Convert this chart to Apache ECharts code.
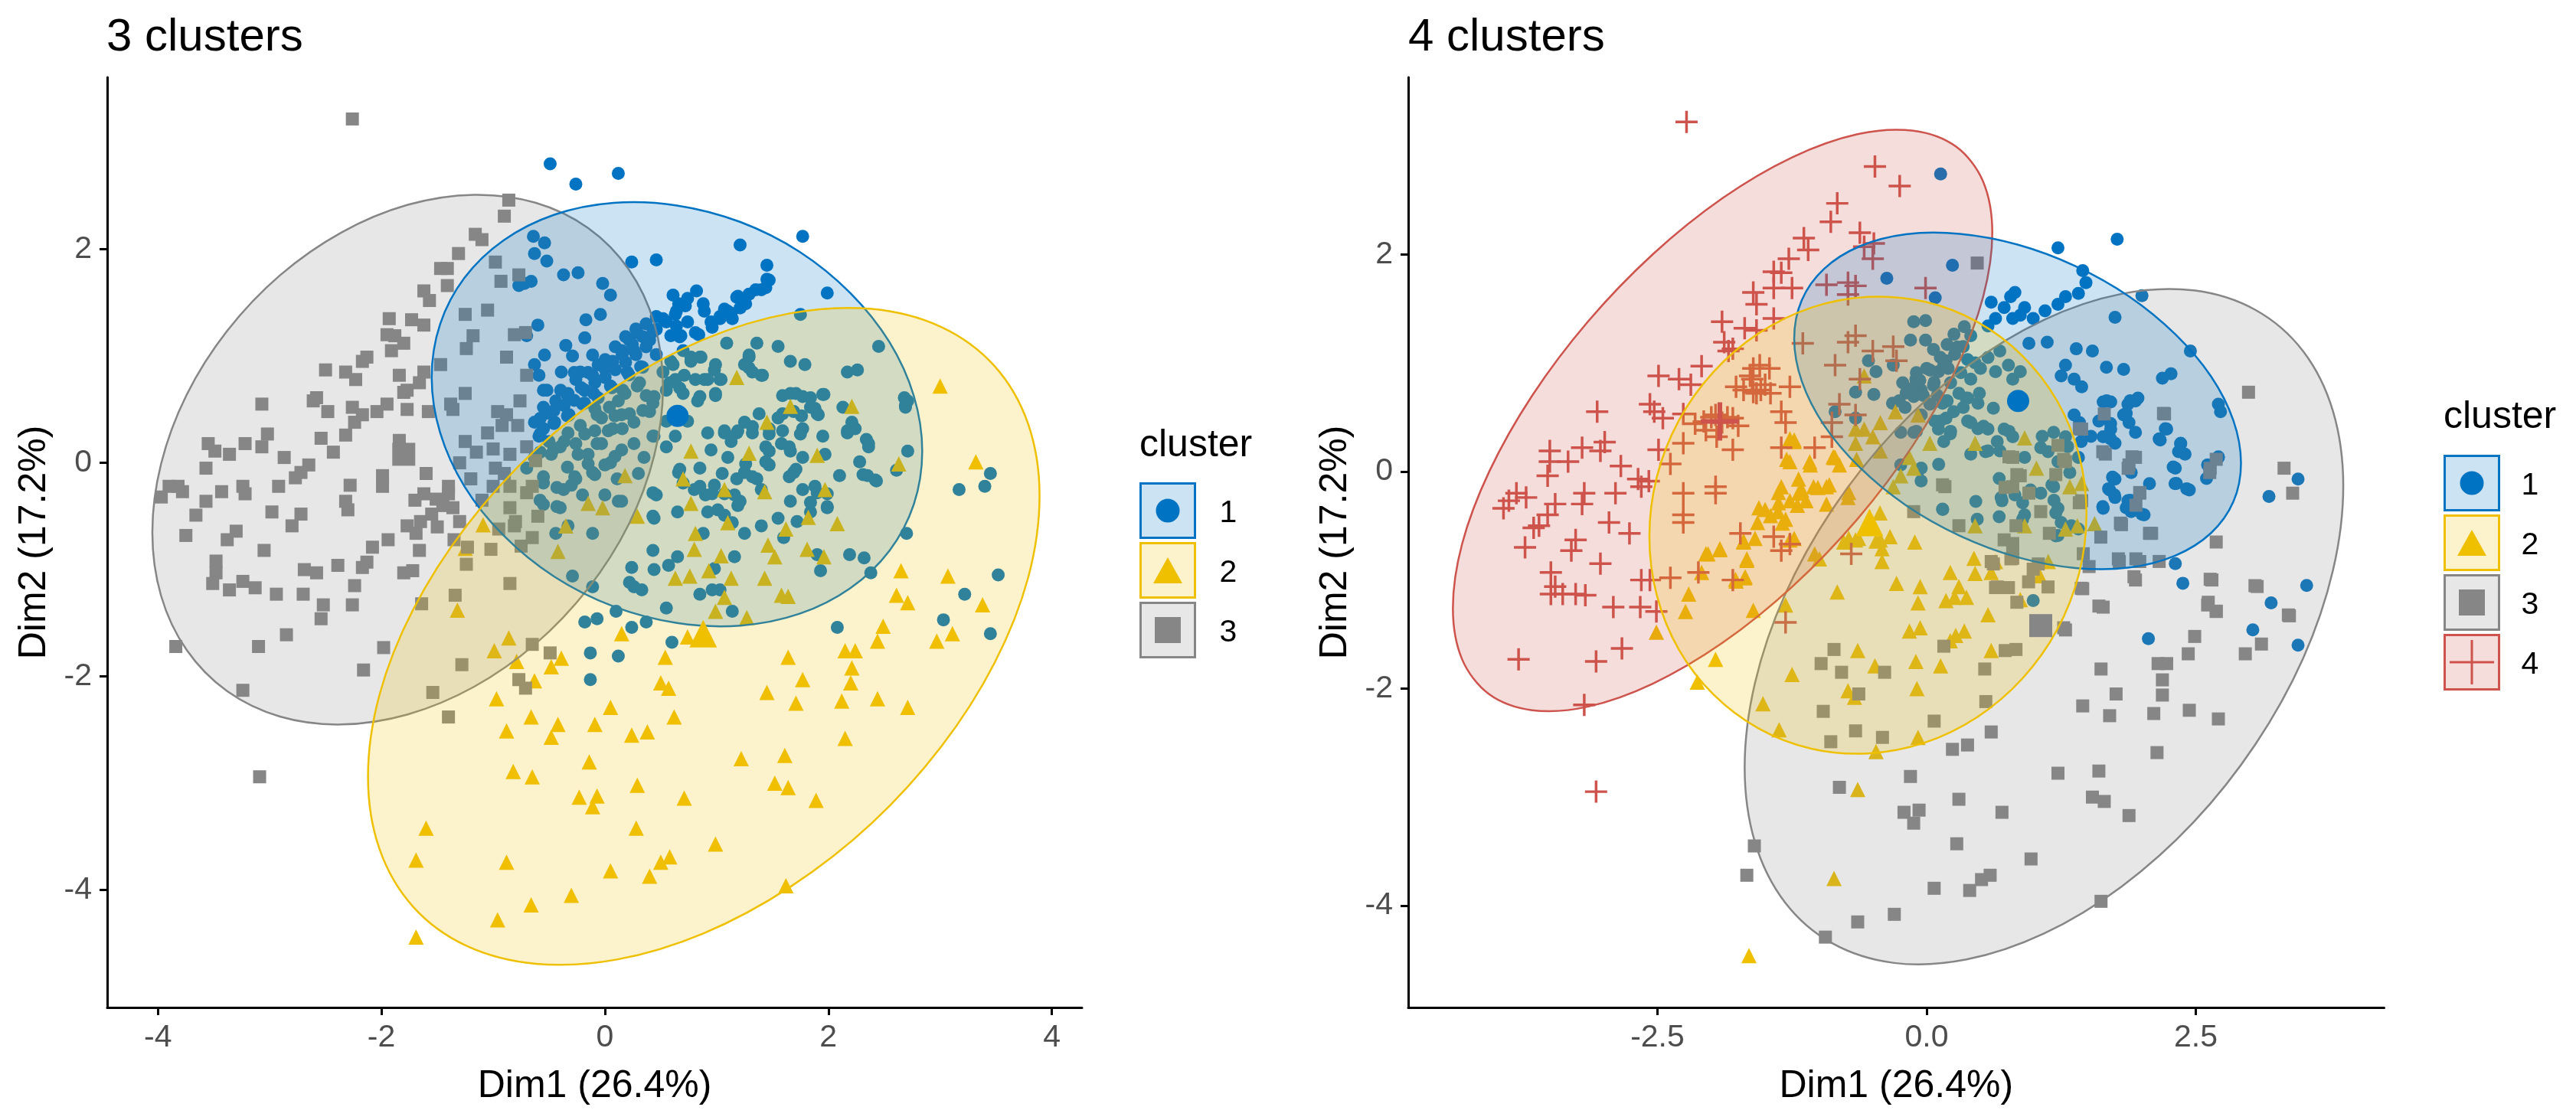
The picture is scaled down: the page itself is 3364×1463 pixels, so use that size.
<!DOCTYPE html>
<html><head><meta charset="utf-8">
<style>html,body{margin:0;padding:0;background:#fff}#c{width:3364px;height:1463px}</style>
<script src="https://cdn.jsdelivr.net/npm/echarts@6/dist/echarts.min.js"></script>
</head><body><div id="c"></div>
<script>
const A_gray=[[-2.26,3.22],[-0.86,2.46],[-0.9,2.31],[-1.16,2.14],[-1.1,2.09],[-1.31,1.96],[-1.41,1.82],[-1.47,1.82],[-0.98,1.88],[-0.77,1.76],[-0.93,1.7],[-1.62,1.61],[-1.57,1.52],[-1.41,1.66],[-1.93,1.35],[-1.73,1.34],[-1.62,1.29],[-1.25,1.39],[-1.05,1.43],[-1.95,1.2],[-1.88,1.19],[-1.8,1.12],[-1.91,1.05],[-1.18,1.19],[-1.24,1.07],[-0.81,1.2],[-0.71,1.22],[-2.13,0.99],[-2.17,0.95],[-2.5,0.87],[-2.32,0.85],[-2.23,0.78],[-1.84,0.82],[-1.62,0.85],[-1.47,0.92],[-0.88,0.99],[-0.7,0.82],[-1.66,0.75],[-1.77,0.68],[-1.8,0.66],[-1.25,0.65],[-2.58,0.61],[-2.61,0.58],[-2.48,0.48],[-2.26,0.52],[-2.17,0.45],[-1.95,0.55],[-2.04,0.48],[-1.77,0.5],[-1.58,0.48],[-1.38,0.55],[-1.36,0.5],[-0.76,0.58],[-0.88,0.45],[-0.92,0.35],[-0.96,0.48],[-3.07,0.55],[-2.24,0.38],[-2.32,0.26],[-2.54,0.23],[-3.02,0.27],[-3.22,0.18],[-3.55,0.18],[-3.49,0.11],[-3.36,0.08],[-3.07,0.15],[-2.87,0.05],[-2.43,0.1],[-1.84,0.21],[-1.8,0.11],[-1.77,0.05],[-3.57,-0.05],[-2.65,-0.02],[-2.72,-0.09],[-2.77,-0.14],[-2.92,-0.22],[-3.24,-0.22],[-3.22,-0.29],[-3.43,-0.27],[-3.82,-0.22],[-3.78,-0.27],[-3.9,-0.22],[-3.97,-0.32],[-3.57,-0.36],[-3.66,-0.49],[-3.75,-0.68],[-3.3,-0.64],[-3.38,-0.72],[-1.99,-0.12],[-1.99,-0.22],[-2.28,-0.21],[-1.6,-0.1],[-2.32,-0.36],[-2.3,-0.44],[-2.98,-0.46],[-2.72,-0.48],[-2.8,-0.59],[-3.05,-0.82],[-3.48,-0.92],[-3.48,-1.03],[-3.51,-1.13],[-3.24,-1.11],[-3.36,-1.19],[-3.13,-1.17],[-2.94,-1.23],[-2.69,-1.0],[-2.58,-1.03],[-2.7,-1.23],[-2.39,-0.96],[-2.13,-0.93],[-2.17,-0.98],[-2.08,-0.79],[-1.94,-0.72],[-1.77,-0.59],[-1.69,-0.66],[-1.62,-0.29],[-1.51,-0.34],[-1.4,-0.29],[-1.36,-0.42],[-1.66,-0.82],[-1.8,-1.03],[-1.72,-1.01],[-1.24,-0.95],[-1.02,-0.81],[-1.23,-0.79],[-0.81,-0.59],[-2.52,-1.33],[-2.54,-1.46],[-2.24,-1.15],[-2.26,-1.33],[-3.84,-1.72],[-3.1,-1.72],[-2.85,-1.61],[-1.98,-1.73],[-2.16,-1.94],[-3.24,-2.13],[-1.54,-2.15],[-1.4,-2.38],[-1.28,-1.89],[-1.64,-1.32],[-1.34,-1.24],[-0.85,-1.13],[-0.65,-1.7],[-0.49,-1.78],[-0.77,-2.03],[-0.71,-2.11],[-3.09,-2.94],[-1.25,0.2],[-1.15,0.1],[-1.0,0.13],[-0.85,0.08],[-0.7,0.15],[-1.3,0],[-1.2,-0.15],[-1.0,-0.22],[-0.85,-0.22],[-0.7,-0.28],[-1.1,-0.35],[-0.85,-0.42],[-0.65,-0.22],[-1.4,-0.22],[-1.55,-0.48],[-1.45,-0.4],[-1.3,-0.55],[-0.95,-0.62],[-0.75,-0.78],[-0.65,-0.7],[-0.6,-0.5],[-0.8,-0.55],[-1.7,-0.35],[-1.65,-0.55],[-1.5,-0.6],[-1.35,-0.72],[-0.98,-0.05],[-0.62,0.02],[-1.05,0.28],[-0.78,0.35],[-0.9,-0.1]];
const A_blue=[[-0.49,2.8],[-0.26,2.61],[0.12,2.71],[1.77,2.12],[1.21,2.04],[1.45,1.85],[1.99,1.59],[0.24,1.88],[0.46,1.9],[-0.64,2.12],[-0.54,2.06],[-0.63,1.96],[-0.52,1.89],[-0.37,1.76],[-0.24,1.78],[-0.02,1.68],[0.05,1.57],[-0.77,1.66],[-0.66,1.7],[-0.72,1.68],[0.61,1.57],[0.82,1.61],[0.88,1.49],[1.47,1.71],[1.4,1.62],[1.29,1.58],[1.18,1.55],[1.21,1.45],[1.1,1.42],[1.14,1.35],[1.03,1.35],[0.96,1.27],[0.66,1.49],[0.63,1.39],[0.74,1.32],[0.81,1.22],[0.68,1.19],[0.59,1.19],[0.52,1.35],[0.46,1.25],[0.4,1.15],[0.29,1.22],[0.22,1.15],[0.15,1.05],[0.26,1.05],[0.07,0.95],[0,0.88],[-0.11,0.82],[-0.26,0.78],[-0.18,0.68],[-0.33,0.65],[-0.44,0.58],[-0.55,0.52],[-0.63,0.38],[-0.55,0.32],[-0.59,0.25],[-0.6,1.29],[-0.7,1.19],[-0.18,1.17],[-0.17,1.34],[-0.04,1.39],[-0.35,1.1],[-0.54,1.01],[-0.11,1.01],[-0.29,1.0],[-0.63,0.92],[-0.59,0.82],[-0.39,0.85],[-0.22,0.85],[-0.55,0.68],[2.71,0.58],[2.69,0.52],[2.45,1.09],[2.26,0.87],[2.17,0.85],[1.75,1.39],[1.36,1.12],[1.55,1.09],[1.09,1.12],[1.29,1.01],[1.66,0.95],[1.79,0.92],[1.25,0.92],[1.32,0.85],[1.4,0.82],[0.85,0.99],[0.77,0.95],[0.7,1.05],[0.59,0.95],[0.52,0.85],[0.63,0.78],[0.99,0.92],[1.03,0.78],[0.92,0.78],[0.81,0.78],[0.99,0.65],[0.85,0.62],[0.7,0.65],[0.55,0.68],[0.44,0.62],[0.29,0.72],[0.18,0.65],[0.04,0.52],[-0.07,0.45],[-0.22,0.35],[-0.33,0.28],[-0.4,0.15],[-0.26,0.18],[-0.15,0.08],[-0.07,0.18],[0.07,0.32],[0.26,0.38],[0.15,0.45],[0.4,0.48],[0.44,0.25],[0.26,0.18],[0,-0.02],[-0.11,-0.09],[-0.26,-0.15],[-0.37,-0.25],[-0.55,-0.19],[-0.55,-0.39],[-0.4,-0.42],[-0.33,-0.59],[-0.44,-0.66],[-0.11,-0.66],[0.15,-0.36],[0.11,-0.15],[-0.7,-0.05],[-0.48,0.08],[-0.63,0.05],[1.25,0.38],[0.92,0.28],[1.07,0.28],[1.18,0.28],[1.32,0.28],[1.47,0.32],[1.55,0.42],[1.66,0.65],[1.77,0.62],[1.95,0.64],[1.84,0.52],[1.91,0.45],[1.69,0.48],[1.58,0.18],[1.47,0.11],[1.47,-0.02],[1.66,0.11],[1.77,0.05],[1.69,-0.09],[1.97,0.08],[2.1,-0.12],[2.24,0.32],[2.17,0.28],[2.36,0.18],[2.28,0.01],[2.35,-0.12],[2.43,-0.17],[2.61,-0.07],[2.71,0.11],[0.66,-0.09],[0.7,-0.19],[0.85,-0.22],[0.96,-0.29],[1.07,-0.29],[1.18,-0.15],[1.25,-0.09],[1.36,-0.15],[1.4,-0.25],[1.21,-0.36],[1.07,-0.49],[0.92,-0.46],[1.14,-0.56],[1.25,-0.66],[1.4,-0.59],[1.55,-0.52],[1.66,-0.36],[1.77,-0.25],[1.88,-0.22],[1.99,-0.29],[1.84,-0.46],[1.99,-0.42],[0.46,-0.3],[0.44,-0.52],[0.65,-0.46],[0.88,-0.66],[0.43,-0.82],[0.65,-0.88],[1.16,-0.88],[0.98,-0.99],[0.24,-0.98],[0.44,-1.0],[0.57,-0.96],[1.03,-1.19],[0.85,-1.23],[0.96,-1.19],[1.14,-1.39],[0.26,-1.16],[0.33,-1.19],[0.22,-1.12],[-0.29,-1.06],[-0.11,-1.16],[0.55,-1.36],[0.1,-1.39],[-0.07,-1.46],[-0.18,-1.49],[0.37,-1.49],[0.24,-1.54],[0.6,-1.68],[-0.13,-1.78],[0.12,-1.81],[-0.13,-2.03],[1.9,-0.86],[1.93,-1.01],[2.19,-0.86],[2.32,-0.89],[2.38,-1.03],[2.7,-0.66],[2.08,-1.54],[3.22,-1.23],[3.03,-1.47],[3.45,-1.6],[3.52,-1.05],[3.17,-0.25],[3.4,-0.22],[3.45,-0.1],[2.13,0.52],[2.21,0.38],[1.95,0.25],[1.77,0.32],[-0.1,0.65],[0.05,0.72],[0.2,0.85],[0.32,0.9],[-0.2,0.55],[-0.32,0.45],[-0.45,0.38],[-0.5,0.2],[0.35,0.05],[0.15,0.12],[0.05,0.0],[-0.2,-0.3],[0.0,-0.3],[0.3,-0.1],[1.1,0.05],[0.95,0.12],[1.05,-0.1],[0.85,-0.05],[1.6,-0.7],[1.72,-0.55],
[-0.579,0.416],[-0.518,0.464],[-0.457,0.488],[-0.365,0.536],[-0.274,0.584],[-0.182,0.679],[-0.09,0.751],[0.002,0.799],[0.093,0.871],[0.185,0.942],[0.277,1.014],[0.369,1.086],[0.093,1.086],[0.185,1.181],[0.277,1.253],[0.369,1.301],[0.155,1.014],[0.246,1.11],[0.338,1.181],[0.43,1.229],[-0.579,0.273],[-0.457,0.368],[-0.335,0.44],[-0.182,0.56],[-0.06,0.608],[0.063,0.703],[0.216,0.823],[0.338,0.895],[0.46,1.014],[-0.151,0.847],[-0.274,0.847],[-0.06,0.918],[0.002,0.966],[-0.396,0.679],[-0.518,0.679],[-0.335,0.632],[-0.212,0.703],
[0.46,1.37],[0.55,1.32],[0.64,1.42],[0.64,1.28],[0.72,1.47],[0.74,1.54],[0.67,1.18],[0.84,1.2],[0.89,1.42],[0.95,1.32],[1.07,1.44],[1.13,1.4],[1.03,1.37],[1.19,1.56],[1.26,1.49],[1.35,1.62],[1.44,1.64],[1.45,1.72],
[0.61,0.92],[0.77,0.99],[0.86,0.99],[0.98,0.87],[1.04,0.78],[0.99,0.63],[0.83,0.58],[0.67,0.7],[0.58,0.75],[0.89,0.78],[0.71,0.82],[1.29,0.99],[1.29,0.89],[1.41,0.82],[1.59,0.63],[1.71,0.65],[1.84,0.61],[1.96,0.64],[1.88,0.51],[1.59,0.46],[1.76,0.44],[1.9,0.46],[2.22,0.34],[2.17,0.3],[2.34,0.22],[2.36,0.15],[2.68,0.61],[2.69,0.54],[1.38,0.46],[1.32,0.34],[1.07,0.3],[1.19,0.3],[1.13,0.2],[1.47,0.27],[1.59,0.3],[1.75,0.27],[1.44,0.15],[1.65,0.15],[1.44,0.01],[1.65,-0.13],[1.71,-0.06],[1.26,-0.01],[1.32,-0.13],[1.16,-0.3],[1.19,-0.4],[0.98,-0.21],[0.8,-0.25],[0.9,-0.3],[0.67,-0.06],[1.01,-0.44],[1.9,-0.28],[1.84,-0.37],[1.99,-0.41],[2.31,-0.11],[2.42,-0.16],[0.55,0.39],[0.74,0.39],[0.63,0.25],[0.43,0.25],[0.55,0.15],
[0.31,0.75],[0.16,0.68],[0.37,0.63],[0.43,0.56],[0.12,0.58],[0.22,0.46],[0.34,0.49],[-0.09,0.51],[-0.03,0.42],[0.09,0.44],[0.155,0.32],[0.03,0.3],[-0.09,0.3],[-0.18,0.27],[-0.365,0.2],[-0.457,0.13],[-0.579,0.1],[-0.24,0.08],[-0.03,0.18],[-0.15,-0.01],[-0.09,-0.11],[0.09,0.06],[-0.335,-0.04],[-0.27,-0.13],[-0.55,-0.13],[-0.43,-0.23],[-0.3,-0.21],[-0.58,-0.35],[-0.43,-0.41],[0.12,-0.36],[0.43,-0.28],[0.43,-0.5]];
const A_yellow=[[3.0,0.72],[3.32,0.01],[1.66,0.53],[2.21,0.53],[1.45,0.38],[1.18,0.8],[0.77,0.11],[1.29,0.09],[1.9,0.07],[2.63,-0.01],[0.18,-0.12],[0.7,-0.15],[1.07,-0.25],[1.43,-0.27],[1.97,-0.25],[0.77,-0.38],[-0.15,-0.38],[-0.02,-0.42],[1.1,-0.56],[0.29,-0.5],[1.82,-0.51],[2.08,-0.57],[1.62,-0.62],[-0.35,-0.59],[-1.09,-0.58],[0.81,-0.66],[0.8,-0.81],[-0.42,-0.83],[-1.25,-0.8],[1.46,-0.77],[1.81,-0.81],[1.04,-0.87],[1.52,-0.88],[1.96,-0.88],[2.65,-1.01],[3.07,-1.06],[0.93,-1.01],[0.63,-1.08],[0.76,-1.06],[1.13,-1.08],[1.43,-1.08],[2.61,-1.24],[1.58,-1.24],[1.64,-1.25],[2.71,-1.31],[3.38,-1.33],[1.07,-1.26],[-1.32,-1.38],[0.99,-1.39],[1.27,-1.45],[0.15,-1.6],[0.74,-1.63],[2.49,-1.53],[3.11,-1.6],[2.97,-1.67],[2.44,-1.67],[-0.86,-1.64],[-0.99,-1.76],[-0.79,-1.86],[0.54,-1.82],[1.64,-1.82],[2.15,-1.76],[2.24,-1.76],[-0.39,-1.83],[-0.48,-1.91],[2.21,-1.92],[1.77,-2.03],[-0.63,-2.04],[0.5,-2.06],[0.57,-2.11],[2.2,-2.06],[1.45,-2.15],[-0.97,-2.21],[1.71,-2.25],[2.12,-2.23],[2.44,-2.21],[0.05,-2.29],[2.71,-2.29],[-0.66,-2.38],[0.62,-2.38],[-0.09,-2.45],[-0.42,-2.45],[-0.88,-2.51],[0.24,-2.55],[0.38,-2.52],[-0.48,-2.57],[2.15,-2.58],[1.61,-2.74],[-0.14,-2.8],[1.22,-2.77],[-0.82,-2.89],[-0.65,-2.94],[1.52,-3.0],[1.64,-3.04],[0.29,-3.02],[1.89,-3.16],[-0.23,-3.13],[-0.07,-3.12],[0.71,-3.14],[-0.11,-3.22],[-1.6,-3.42],[0.28,-3.42],[0.99,-3.57],[-1.69,-3.72],[-0.88,-3.74],[0.58,-3.69],[0.5,-3.74],[0.05,-3.82],[0.4,-3.87],[1.62,-3.96],[-0.3,-4.05],[-0.66,-4.14],[-0.96,-4.28],[-1.69,-4.44]];
const A_grayOutline=[[0.52,0.71],[0.442,0.07],[0.214,-0.575],[-0.149,-1.175],[-0.622,-1.696],[-1.173,-2.098],[-1.765,-2.356],[-2.357,-2.45],[-2.908,-2.376],[-3.381,-2.138],[-3.744,-1.751],[-3.972,-1.245],[-4.05,-0.65],[-3.972,-0.01],[-3.744,0.635],[-3.381,1.235],[-2.908,1.756],[-2.357,2.158],[-1.765,2.416],[-1.173,2.51],[-0.622,2.436],[-0.149,2.198],[0.214,1.811],[0.442,1.305]];
const A_blueOutline=[[2.84,0.108],[2.765,-0.387],[2.546,-0.823],[2.197,-1.173],[1.743,-1.413],[1.213,-1.524],[0.645,-1.5],[0.077,-1.345],[-0.453,-1.066],[-0.907,-0.68],[-1.256,-0.222],[-1.475,0.284],[-1.55,0.802],[-1.475,1.297],[-1.256,1.733],[-0.907,2.083],[-0.453,2.323],[0.077,2.434],[0.645,2.41],[1.213,2.255],[1.743,1.976],[2.197,1.59],[2.546,1.132],[2.765,0.626]];
const A_yellowOutline=[[3.89,-0.309],[3.788,-1.075],[3.487,-1.874],[3.01,-2.658],[2.388,-3.375],[1.663,-3.968],[0.885,-4.405],[0.107,-4.651],[-0.618,-4.691],[-1.24,-4.522],[-1.717,-4.156],[-2.018,-3.614],[-2.12,-2.941],[-2.018,-2.175],[-1.717,-1.376],[-1.24,-0.592],[-0.618,0.125],[0.107,0.718],[0.885,1.155],[1.663,1.401],[2.388,1.441],[3.01,1.272],[3.487,0.906],[3.788,0.364]];
const A_means={blue:[[0.65,0.44]],yellow:[[0.88,-1.6]],gray:[[-1.8,0.08]]};

const B_red=[[-2.23,3.22],[-0.48,2.81],[-0.25,2.63],[-0.83,2.47],[-0.89,2.3],[-0.62,2.2],[-0.49,2.1],[-0.58,2.07],[-0.5,1.96],[-1.14,2.15],[-1.1,2.04],[-1.28,1.96],[-1.42,1.84],[-1.35,1.83],[-1.42,1.69],[-1.25,1.69],[-0.93,1.72],[-0.73,1.74],[-0.66,1.71],[-0.01,1.69],[-0.73,1.63],[-1.61,1.65],[-1.58,1.54],[-1.42,1.41],[-1.9,1.38],[-1.69,1.32],[-1.58,1.3],[-1.88,1.19],[-1.8,1.13],[-1.84,1.11],[-1.15,1.18],[-0.73,1.19],[-0.66,1.25],[-0.31,1.15],[-0.5,1.11],[-0.85,0.98],[-0.62,0.85],[-0.28,1.02],[-2.09,0.97],[-2.49,0.88],[-2.3,0.85],[-2.19,0.8],[-1.61,0.95],[-1.46,0.95],[-1.64,0.88],[-1.77,0.78],[-1.61,0.73],[-1.54,0.75],[-1.27,0.78],[-2.57,0.62],[-3.06,0.55],[-2.53,0.55],[-2.45,0.49],[-2.26,0.53],[-2.07,0.46],[-2.15,0.44],[-1.96,0.52],[-1.8,0.49],[-1.35,0.55],[-1.31,0.45],[-0.81,0.62],[-0.66,0.52],[-1.8,0.2],[-2.49,0.2],[-2.26,0.26],[-2.38,0.07],[-3.5,0.19],[-2.99,0.27],[-3.03,0.19],[-3.2,0.22],[-3.33,0.09],[-3.5,0.09],[-2.84,0.05],[-3.52,-0.04],[-2.68,-0.07],[-2.58,-0.09],[-2.65,-0.14],[-1.96,-0.14],[-1.96,-0.2],[-2.26,-0.2],[-2.89,-0.2],[-3.18,-0.2],[-3.2,-0.3],[-3.81,-0.2],[-3.72,-0.24],[-3.88,-0.27],[-3.93,-0.34],[-3.45,-0.3],[-3.52,-0.4],[-3.6,-0.5],[-3.65,-0.52],[-2.95,-0.47],[-2.26,-0.4],[-2.26,-0.47],[-2.76,-0.57],[-1.73,-0.57],[-1.42,-0.6],[-1.27,-0.67],[-3.26,-0.63],[-3.3,-0.73],[-3.73,-0.7],[-3.03,-0.85],[-3.49,-0.93],[-3.45,-1.06],[-3.49,-1.13],[-3.38,-1.13],[-3.26,-1.13],[-3.17,-1.14],[-2.91,-1.25],[-2.65,-1.0],[-2.57,-1.0],[-2.38,-0.98],[-2.66,-1.25],[-2.51,-1.29],[-2.12,-0.93],[-1.8,-1.0],[-1.31,-1.39],[-0.7,-0.76],[-1.35,-0.73],[-3.79,-1.73],[-3.07,-1.75],[-2.83,-1.63],[-3.18,-2.15],[-3.07,-2.95],[-1.55,0.98],[-1.62,0.85],[-1.5,0.8],[-1.58,0.72],[-1.7,0.75],[-1.45,0.72],[-2.0,0.5],[-1.9,0.45],[-1.85,0.5],[-1.75,0.42],[-2.05,0.38],[-1.95,0.32],[-1.35,0.22],[-1.04,0.22],[-0.88,0.32],[-0.88,0.45]];
const B_blue=[[0.13,2.74],[1.77,2.14],[1.22,2.06],[1.45,1.85],[2.0,1.62],[0.24,1.9],[-0.37,1.78],[0.08,1.6],[0.6,1.56],[0.78,1.61],[0.82,1.65],[1.48,1.74],[1.41,1.64],[1.29,1.61],[1.22,1.54],[1.1,1.48],[0.99,1.41],[0.87,1.44],[0.91,1.51],[0.72,1.51],[0.64,1.41],[0.8,1.41],[0.57,1.34],[0.95,1.18],[1.75,1.42],[1.12,1.19],[1.39,1.13],[1.54,1.11],[2.45,1.11],[1.67,0.96],[1.83,0.94],[2.19,0.86],[2.27,0.9],[1.29,0.98],[1.25,0.88],[1.37,0.85],[1.44,0.78],[1.64,0.64],[1.71,0.64],[1.87,0.62],[1.94,0.65],[1.83,0.52],[1.88,0.45],[2.71,0.62],[2.73,0.55],[1.42,0.45],[1.71,0.39],[1.64,0.32],[1.75,0.26],[1.94,0.36],[2.17,0.29],[2.23,0.39],[2.36,0.26],[2.4,0.16],[2.71,0.13],[2.31,0.03],[2.61,0.06],[2.32,-0.11],[2.44,-0.17],[1.9,-0.01],[1.75,-0.07],[1.7,-0.17],[1.75,-0.24],[1.64,-0.34],[1.87,-0.27],[1.98,-0.2],[1.9,-0.37],[2.02,-0.4],[2.31,-0.85],[2.38,-1.03],[2.06,-1.54],[3.03,-1.46],[3.2,-1.21],[3.53,-1.05],[3.45,-1.6],[3.18,-0.23],[3.45,-0.07],[-0.12,1.38],[-0.01,1.39],[-0.15,1.21],[-0.01,1.21],[0.41,1.25],[0.34,1.15],[0.26,1.08],[0.18,1.02],[0.11,0.92],[0.07,0.82],[-0.05,0.75],[-0.12,0.69],[-0.2,0.59],[-0.05,0.52],[0.03,0.62],[0.18,0.65],[0.3,0.72],[0.41,0.85],[0.57,1.05],[0.68,1.11],[0.76,0.98],[0.64,0.92],[0.8,0.85],[0.87,0.92],[0.49,0.72],[0.34,0.59],[0.18,0.49],[0.11,0.39],[-0.12,0.36],[-0.24,0.36],[0.41,0.45],[0.57,0.39],[0.72,0.39],[0.57,0.19],[0.41,0.16],[0.68,0.19],[0.8,0.32],[0.91,0.13],[1.06,0.22],[1.18,0.36],[1.29,0.32],[1.22,0.09],[1.33,-0.01],[1.18,-0.14],[1.41,0.13],[1.06,-0.2],[1.22,-0.34],[1.25,-0.47],[1.22,-0.59],[1.41,-0.53],[0.91,-0.4],[0.7,-0.27],[0.47,-0.44],[0.15,-0.35],[-0.05,0.03],[-0.24,0.06],[-0.54,1.02],[-0.31,0.98],[-0.66,0.73],[-0.49,0.71],[-0.85,0.55],[-0.66,0.49],[-0.47,0.92],[1.37,0.52],[0.99,-1.19],[0.2,0.95],[0.1,0.7],[0.25,0.55],[0.5,0.95],[0.45,1.0],[0.0,0.95],[-0.1,0.85],
[-0.317,0.629],[-0.19,0.723],[-0.063,0.84],[0.032,0.934],[0.127,1.052],[0.191,1.17],[0.254,1.264],[0.35,1.334],[-0.222,0.817],[-0.095,0.911],[0.064,1.123],[0.159,0.981],[0.286,1.146],[-0.031,0.7],[0.064,0.793],[-0.254,0.652],[-0.126,0.77],[0.381,1.03],[0.318,0.911],[0.223,0.817],[0.191,0.652],[0.127,0.464],[0.223,0.37],[0.381,0.464],[0.477,0.629],[0.381,0.676],[0.477,0.394],[0.159,0.276],[-0.095,0.37],
[1.672,0.652],[1.89,0.652],[1.963,0.676],[1.854,0.535],[1.709,0.441],[1.6,0.464],[1.527,0.323],[1.709,0.3],[1.436,0.276],[2.217,0.394],[2.16,0.3],[2.36,0.253],[2.34,0.182],[2.71,0.135],[2.29,0.041],[2.6,-0.065],[2.07,-0.112],[2.307,-0.112],[2.416,-0.159],[1.727,-0.053],[1.69,-0.159],[1.745,-0.217],[1.89,-0.265],[1.636,-0.323],[1.854,-0.335],[2.0,-0.394],
[0.148,0.629],[0.075,0.464],[0.22,0.347],[0.366,0.676],[0.62,0.582],[0.529,0.417],[0.765,0.37],[0.656,0.276],[1.074,0.323],[1.128,0.182],[1.31,0.229],[0.547,0.182],[0.112,0.065],[-0.07,0.018],[-0.051,-0.088],[0.674,-0.065],[1.164,-0.123],[0.965,-0.17],[0.692,-0.241],[0.82,-0.217],[0.457,-0.276],[0.892,-0.288],[1.183,-0.265],[1.2,-0.382],[0.148,-0.347],[0.674,-0.417],[0.892,-0.441],[1.345,-0.5],[1.2,-0.594]];
const B_yellow=[[-1.65,-4.46],[-0.86,-3.75],[-0.64,-2.93],[-0.47,-2.58],[-0.08,-2.45],[-1.37,-2.38],[-1.52,-2.14],[-1.25,-1.87],[-0.73,-2.02],[-0.67,-2.08],[-0.48,-1.79],[-0.09,-2.0],[-0.1,-1.75],[0.13,-1.79],[0.6,-1.65],[-0.64,-1.65],[-1.96,-1.73],[-2.13,-1.94],[-2.51,-1.48],[-2.24,-1.29],[-2.21,-1.13],[-1.61,-1.28],[-1.31,-1.23],[-1.77,-1.01],[-1.69,-0.98],[-2.09,-0.93],[-1.67,-0.82],[-2.03,-0.76],[-1.92,-0.72],[-1.7,-0.65],[-0.83,-1.11],[-0.28,-1.03],[-0.06,-1.06],[-0.08,-1.21],[0.22,-0.93],[0.44,-0.8],[-0.11,-0.65],[-0.34,-0.6],[-0.66,-0.63],[-0.77,-0.65],[-0.43,-0.63],[-1.04,-0.76],[-1.27,-0.63],[0.45,-0.94],[0.64,-0.83],[0.6,-0.93],[0.3,-1.06],[0.26,-1.16],[0.37,-1.16],[0.18,-1.19],[0.87,-1.18],[0.57,-1.32],[-0.16,-1.47],[-0.06,-1.44],[0.35,-1.47],[0.27,-1.51],[0.22,-1.56],[1.05,-0.96],[1.13,-0.83],[-1.19,-0.2],[-1.27,-0.27],[-1.12,-0.27],[-1.35,-0.14],[-1.19,-0.07],[-1.08,0.06],[-1.27,0.09],[-0.85,0.13],[-0.81,0.06],[-0.93,-0.14],[-1.05,-0.14],[-1.38,-0.37],[-1.5,-0.35],[-1.31,-0.44],[-1.57,-0.47],[-0.93,-0.3],[-0.73,-0.24],[-0.66,0.39],[-0.58,0.39],[-0.5,0.32],[-0.43,0.45],[-0.29,0.55],[-0.08,0.52],[-0.66,0.26],[-0.43,0.19],[-0.16,0.13],[-0.12,0.03],[-0.24,-0.04],[-0.31,-0.14],[0.03,0.26],[0.45,0.26],[0.91,0.31],[1.02,0.03],[0.45,-0.5],[0.91,-0.5],[1.33,-0.14],[1.44,-0.11],[1.29,-0.53],[1.56,-0.48],[1.4,-0.5],[-0.58,0.88],[-1.23,0.29],[-1.27,0.3],[-0.86,0.13],
[-1.16,-0.17],[-1.376,-0.194],[-1.01,-0.147],[-0.904,-0.123],[-1.2,-0.311],[-1.376,-0.288],[-1.558,-0.335],[-1.45,-0.406],[-1.34,-0.476],[-0.868,0.135],[-1.086,0.088],[-1.3,0.112],[-1.23,0.276],[-0.65,0.112],[-0.433,-0.382],[-0.723,-0.194],[-0.723,-0.617],[-0.632,-0.617],[-0.469,-0.641],[-0.414,-0.711],[-0.414,-0.829],[-0.995,-0.805],[-1.23,-0.617],[-1.7,-0.641],[-1.594,-0.617],[-2.05,-0.758],[-1.92,-0.711],[-1.67,-0.805],[-1.775,-0.993],[-1.685,-0.97]];
const B_gray=[[0.47,1.92],[2.99,0.73],[2.21,0.53],[3.32,0.03],[3.4,-0.2],[2.69,-0.65],[2.65,-1.0],[3.07,-1.06],[3.37,-1.33],[2.69,-1.29],[2.61,-1.23],[2.49,-1.52],[3.11,-1.59],[2.96,-1.68],[2.43,-1.68],[2.15,-1.77],[2.23,-1.77],[2.19,-1.92],[2.19,-2.06],[1.62,-1.82],[1.76,-2.05],[1.45,-2.16],[1.7,-2.25],[2.11,-2.23],[2.44,-2.2],[2.71,-2.28],[2.14,-2.59],[0.6,-2.4],[0.38,-2.52],[0.24,-2.56],[1.22,-2.78],[1.6,-2.76],[-0.15,-2.81],[-0.81,-2.91],[0.3,-3.02],[1.54,-3.0],[1.65,-3.04],[1.88,-3.17],[0.7,-3.14],[-0.07,-3.12],[-0.21,-3.14],[-0.12,-3.24],[0.28,-3.43],[0.97,-3.57],[-1.6,-3.45],[-1.67,-3.72],[0.59,-3.72],[0.51,-3.76],[0.4,-3.86],[0.07,-3.84],[-0.3,-4.08],[-0.64,-4.15],[-0.94,-4.29],[1.62,-3.96],[-0.86,-1.64],[-0.98,-1.77],[-0.79,-1.85],[-0.39,-1.85],[-0.63,-2.05],[-0.96,-2.21],[-0.89,-2.49],[-0.66,-2.39],[-0.41,-2.45],[0.07,-2.3],[0.54,-1.82],[0.55,-2.12],[0.16,-1.61],[0.73,-1.65],[0.83,-1.64],[0.64,-1.07],[0.76,-1.07],[0.6,-0.83],[0.8,-0.8],[0.99,-0.9],[1.29,-1.46],[1.45,-1.08],[1.64,-1.25],[1.94,-1.0],[1.98,-0.83],[1.79,-0.83],[2.09,-0.57],[1.81,-0.49],[1.98,-0.2],[1.88,0.06],[1.66,0.16],[1.65,0.53],[1.44,0.39],[1.29,0.09],[1.22,0.24],[0.8,0.13],[0.87,-0.04],[0.8,-0.14],[0.17,-0.14],[-0.12,-0.37],[0.3,-0.5],[0.83,-0.5],[0.95,-0.2],[1.06,-0.37],[1.14,-0.57],[0.72,-0.63],[0.8,-0.73],[2.63,-0.01],[1.94,0.13],[1.44,-0.27],
[0.765,0.135],[1.273,0.112],[0.148,-0.123],[0.838,-0.029],[0.729,-0.147],[1.2,-0.029],[1.418,-0.288],[1.418,0.394],[1.636,0.182],[1.908,0.135],[1.872,0.029],[2.2,0.535],[2.634,0.029],[2.69,0.112],[1.98,-0.194],[1.944,-0.311],[1.8,-0.476],[2.07,-0.57],[1.618,-0.605],[1.781,-0.805],[1.944,-0.805],[1.926,-0.97],[2.16,-0.829],[1.509,-0.876],[1.455,-0.758],[0.8,-0.664],[0.783,-0.805],[0.62,-0.852],[1.037,-0.852],[0.656,-1.064],[0.947,-1.017],[1.128,-1.064],[1.436,-1.076],[1.6,-1.24],[2.634,-0.993],[3.05,-1.052],[2.616,-1.205],[2.69,-1.287],[3.36,-1.322],[1.273,-1.44],[0.838,-1.205]];
const B_redOutline=[[0.61,2.199],[0.525,1.609],[0.274,0.944],[-0.124,0.245],[-0.643,-0.439],[-1.246,-1.06],[-1.895,-1.578],[-2.544,-1.955],[-3.148,-2.167],[-3.666,-2.199],[-4.064,-2.052],[-4.315,-1.73],[-4.4,-1.259],[-4.315,-0.669],[-4.064,-0.004],[-3.666,0.695],[-3.147,1.379],[-2.544,2.0],[-1.895,2.518],[-1.246,2.895],[-0.642,3.107],[-0.124,3.139],[0.274,2.992],[0.525,2.67]];
const B_blueOutline=[[2.92,0.077],[2.85,-0.277],[2.642,-0.567],[2.312,-0.774],[1.883,-0.885],[1.382,-0.889],[0.845,-0.79],[0.308,-0.592],[-0.193,-0.311],[-0.622,0.038],[-0.952,0.425],[-1.159,0.83],[-1.23,1.223],[-1.16,1.577],[-0.952,1.867],[-0.622,2.074],[-0.193,2.185],[0.308,2.189],[0.845,2.09],[1.382,1.892],[1.883,1.611],[2.312,1.262],[2.642,0.875],[2.849,0.47]];
const B_yellowOutline=[[1.485,-0.39],[1.416,-0.939],[1.213,-1.457],[0.89,-1.907],[0.47,-2.263],[-0.019,-2.499],[-0.545,-2.598],[-1.071,-2.554],[-1.56,-2.368],[-1.98,-2.055],[-2.303,-1.638],[-2.506,-1.141],[-2.575,-0.6],[-2.506,-0.051],[-2.303,0.467],[-1.98,0.917],[-1.56,1.273],[-1.071,1.509],[-0.545,1.608],[-0.019,1.564],[0.47,1.378],[0.89,1.065],[1.213,0.648],[1.416,0.151]];
const B_grayOutline=[[3.87,-0.133],[3.775,-0.908],[3.497,-1.722],[3.055,-2.512],[2.48,-3.231],[1.81,-3.825],[1.09,-4.257],[0.37,-4.496],[-0.3,-4.528],[-0.876,-4.347],[-1.317,-3.968],[-1.595,-3.414],[-1.69,-2.727],[-1.595,-1.952],[-1.317,-1.138],[-0.875,-0.348],[-0.3,0.371],[0.37,0.965],[1.09,1.397],[1.81,1.636],[2.48,1.668],[3.056,1.487],[3.497,1.108],[3.775,0.554]];
const B_means={blue:[[0.85,0.65]],yellow:[[-0.53,-0.47]],gray:[[1.06,-1.42]],red:[[-1.92,0.46]]};

const titles=['3 clusters','4 clusters'];
const xTicksA=[-4,-2,0,2,4], yTicksA=[-4,-2,0,2];
const xTicksB=[-2.5,0,2.5], yTicksB=[-4,-2,0,2];
const xName='Dim1 (26.4%)', yName='Dim2 (17.2%)', legendTitle='cluster';
const clustersA=['1','2','3'], clustersB=['1','2','3','4'];

const COL={blue:'#0073C2',yellow:'#EFC000',gray:'#868686',red:'#CD534C'};
const FILL={blue:'rgba(0,115,194,0.2)',yellow:'rgba(239,192,0,0.2)',gray:'rgba(134,134,134,0.2)',red:'rgba(205,83,76,0.2)'};
const CROSS='path://M44 0H56V44H100V56H56V100H44V56H0V44H44Z';
const SYM={blue:{symbol:'circle',size:17},yellow:{symbol:'triangle',size:[20,20]},gray:{symbol:'rect',size:17},red:{symbol:CROSS,size:29}};
const BIG={blue:{symbol:'circle',size:29},yellow:{symbol:'triangle',size:[36,36]},gray:{symbol:'rect',size:30},red:{symbol:CROSS,size:50}};
const FONT='"Liberation Sans", Arial, sans-serif';

function scatter(idx,key,data){return {type:'scatter',xAxisIndex:idx,yAxisIndex:idx,data,symbol:SYM[key].symbol,symbolSize:SYM[key].size,itemStyle:{color:COL[key],opacity:1},z:2,silent:true,animation:false};}
function mean(idx,key,data){return {type:'scatter',xAxisIndex:idx,yAxisIndex:idx,data,symbol:BIG[key].symbol,symbolSize:BIG[key].size,itemStyle:{color:COL[key],opacity:1},z:4,silent:true,animation:false};}
function outline(idx,key,data){return {type:'custom',xAxisIndex:idx,yAxisIndex:idx,data,z:3,silent:true,animation:false,clip:false,
  encode:{x:0,y:1},
  renderItem(params,api){ if(params.dataIndex!==0) return null;
    const pts=data.map(p=>api.coord(p));
    return {type:'polygon',shape:{points:pts,smooth:0.33},style:{fill:FILL[key],stroke:COL[key],lineWidth:2.5}};}};}
function xA(idx,min,max,ticks,fmt){return {type:'value',gridIndex:idx,min,max,splitLine:{show:false},name:xName,nameLocation:'middle',nameGap:78,
  nameTextStyle:{fontSize:50,color:'#000',fontFamily:FONT},axisLine:{onZero:false,lineStyle:{color:'#000',width:3}},
  axisTick:{length:10,lineStyle:{color:'#000',width:3},customValues:ticks},
  axisLabel:{customValues:ticks,fontSize:41,color:'#4D4D4D',fontFamily:FONT,margin:19,formatter:fmt,hideOverlap:false}};}
function yA(idx,min,max,ticks){return {type:'value',gridIndex:idx,min,max,splitLine:{show:false},name:yName,nameLocation:'middle',nameGap:70,nameRotate:90,
  nameTextStyle:{fontSize:50,color:'#000',fontFamily:FONT},axisLine:{onZero:false,lineStyle:{color:'#000',width:3}},
  axisTick:{length:10,lineStyle:{color:'#000',width:3},customValues:ticks},
  axisLabel:{customValues:ticks,fontSize:41,color:'#4D4D4D',fontFamily:FONT,margin:20,hideOverlap:false}};}

function legend(x,titleY,keyY,labelX,keys,labels){
  const g=[{type:'text',x:x,y:titleY,style:{text:legendTitle,font:'50px '+FONT,fill:'#000',textAlign:'left',textVerticalAlign:'middle'}}];
  keys.forEach((k,i)=>{
    const y=keyY+i*78,cx=x+37,cy=y+37;
    g.push({type:'rect',shape:{x:x+1.5,y:y+1.5,width:71,height:71},style:{fill:FILL[k],stroke:COL[k],lineWidth:3}});
    if(k==='blue') g.push({type:'circle',shape:{cx,cy,r:15.5},style:{fill:COL[k]}});
    if(k==='yellow') g.push({type:'polygon',shape:{points:[[cx,cy-17],[cx+19,cy+17],[cx-19,cy+17]]},style:{fill:COL[k]}});
    if(k==='gray') g.push({type:'rect',shape:{x:cx-17,y:cy-17,width:34,height:34},style:{fill:COL[k]}});
    if(k==='red'){ g.push({type:'rect',shape:{x:cx-1.5,y:cy-29,width:3,height:58},style:{fill:COL[k]}});
      g.push({type:'rect',shape:{x:cx-29,y:cy-1.5,width:58,height:3},style:{fill:COL[k]}}); }
    g.push({type:'text',x:labelX,y:cy+4,style:{text:labels[i],font:'41px '+FONT,fill:'#000',textAlign:'center',textVerticalAlign:'middle'}});
  });
  return g;
}

const chart=echarts.init(document.getElementById('c'),null,{renderer:'canvas',width:3364,height:1463});
chart.setOption({
  animation:false,backgroundColor:'#fff',
  title:[{text:titles[0],left:134,top:14,textStyle:{fontSize:60,fontWeight:'normal',color:'#000',fontFamily:FONT}},
         {text:titles[1],left:1834,top:14,textStyle:{fontSize:60,fontWeight:'normal',color:'#000',fontFamily:FONT}}],
  grid:[{left:140,top:101,width:1273,height:1215},{left:1839,top:101,width:1274.5,height:1215}],
  xAxis:[xA(0,-4.454,4.27,xTicksA),xA(1,-4.815,4.25,xTicksB,v=>v.toFixed(1))],
  yAxis:[yA(0,-5.1,3.61,yTicksA),yA(1,-4.938,3.631,yTicksB)],
  series:[
    scatter(0,'blue',A_blue),scatter(0,'yellow',A_yellow),scatter(0,'gray',A_gray),
    outline(0,'gray',A_grayOutline),outline(0,'blue',A_blueOutline),outline(0,'yellow',A_yellowOutline),
    mean(0,'blue',A_means.blue),mean(0,'yellow',A_means.yellow),mean(0,'gray',A_means.gray),
    scatter(1,'blue',B_blue),scatter(1,'yellow',B_yellow),scatter(1,'gray',B_gray),scatter(1,'red',B_red),
    outline(1,'gray',B_grayOutline),outline(1,'red',B_redOutline),outline(1,'blue',B_blueOutline),outline(1,'yellow',B_yellowOutline),
    mean(1,'blue',B_means.blue),mean(1,'yellow',B_means.yellow),mean(1,'gray',B_means.gray),mean(1,'red',B_means.red)
  ],
  graphic:[...legend(1488,582,630,1604,['blue','yellow','gray'],clustersA),...legend(3191,545,594,3304,['blue','yellow','gray','red'],clustersB)]
});
</script></body></html>
